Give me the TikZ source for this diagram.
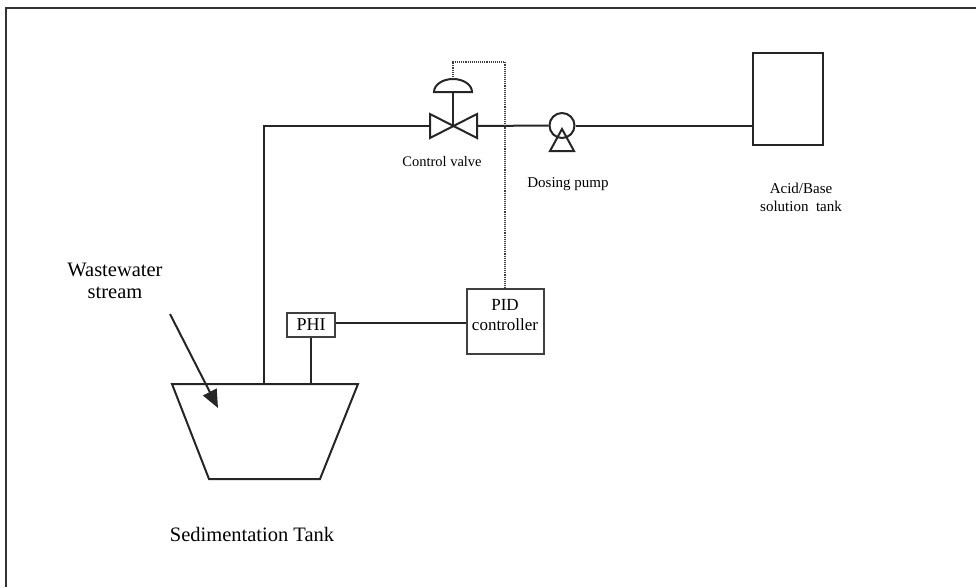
\documentclass[tikz,border=0pt]{standalone}
\usepackage{fontspec}
\setmainfont{Liberation Serif}
\usetikzlibrary{arrows.meta}
\begin{document}
\begin{tikzpicture}[x=1pt,y=-1pt,
  pipe/.style={line width=2pt,black!85},
  signal/.style={line width=1.1pt,densely dotted,black!75},
  box/.style={draw=black!85,line width=2pt,rectangle,inner sep=0pt},
  ibox/.style={draw=black!75,line width=1.5pt,rectangle,inner sep=0pt},
  lbl/.style={inner sep=0pt,font=\fontsize{15}{15}\selectfont},
  big/.style={inner sep=0pt,font=\fontsize{20.5}{20.5}\selectfont}]
\useasboundingbox (0,0) rectangle (976,587);
% frame
\draw[line width=2.2pt,black!80] (6,587) -- (6,8) -- (976,8);

% sedimentation tank
\coordinate (tTL) at (172,384);
\coordinate (tTR) at (358,384);
\coordinate (tBR) at (320,479);
\coordinate (tBL) at (209,479);
\draw[pipe,line join=miter] (tTL) -- (tTR) -- (tBR) -- (tBL) -- cycle;
\node[big] (tanklbl) at (252,534) {Sedimentation Tank};

% wastewater stream
\node[big] (ww1) at (115,270) {Wastewater};
\node[big] (ww2) at (115,293) {stream};
\coordinate (wwS) at (170,314);
\coordinate (wwE) at (218,408);
\draw[pipe,-{Triangle[length=18pt,width=15pt]}] (wwS) -- (wwE);

% pipe from tank up to valve
\coordinate (pB) at (264,384);
\coordinate (pC) at (264,126);
\coordinate (vL) at (430,126);
\coordinate (vR) at (477,126);
\coordinate (vC) at (453,126);
\draw[pipe] (pB) -- (pC) -- (vL);

% control valve
\draw[pipe,line join=miter] (430,114) -- (430,138) -- (477,114) -- (477,138) -- cycle;
\coordinate (vTop) at (453,92);
\draw[pipe] (vC) -- (vTop);
\draw[pipe] (434,92) arc[start angle=180,end angle=360,x radius=19,y radius=13] -- cycle;
\coordinate (dome) at (453,79);
\node[lbl,font=\fontsize{14.5}{14.5}\selectfont] (cvlbl) at (442,162) {Control valve};

% dosing pump
\node[draw=black!85,circle,line width=2pt,minimum size=25pt,inner sep=0pt] (pump) at (562,125.5) {};
\draw[pipe,line join=miter] (562,129) -- (574,151) -- (550,151) -- cycle;
\draw[pipe] (vR) -- (pump.west);
\node[lbl] (dplbl) at (568,184) {Dosing pump};

% acid/base tank
\node[box,minimum width=70pt,minimum height=92pt] (acid) at (788,99) {};
\draw[pipe] (pump.east) -- (pump.east -| acid.west);
\node[lbl] (ab1) at (801,188) {Acid/Base};
\node[lbl] (ab2) at (801,206) {solution\ \ tank};

% PID controller
\node[ibox,minimum width=77pt,minimum height=65pt] (pid) at (505.5,321.5) {};
\node[lbl,font=\fontsize{17}{17}\selectfont] (pidt1) at (505,305) {PID};
\node[lbl,font=\fontsize{17}{17}\selectfont] (pidt2) at (505,325) {controller};

% signal line
\coordinate (s1) at (453,62);
\coordinate (s2) at (505,62);
\draw[signal] (dome) -- (s1) -- (s2) -- (s2 |- pid.north);

% PHI
\node[ibox,minimum width=48pt,minimum height=24pt,font=\fontsize{18}{18}\selectfont] (phi) at (311,325) {PHI};
\draw[pipe] (phi.east |- 0,322.5) -- (pid.west |- 0,322.5);
\coordinate (phiB) at (311,384);
\draw[pipe] (phi.south) -- (phiB);
\end{tikzpicture}
\end{document}
